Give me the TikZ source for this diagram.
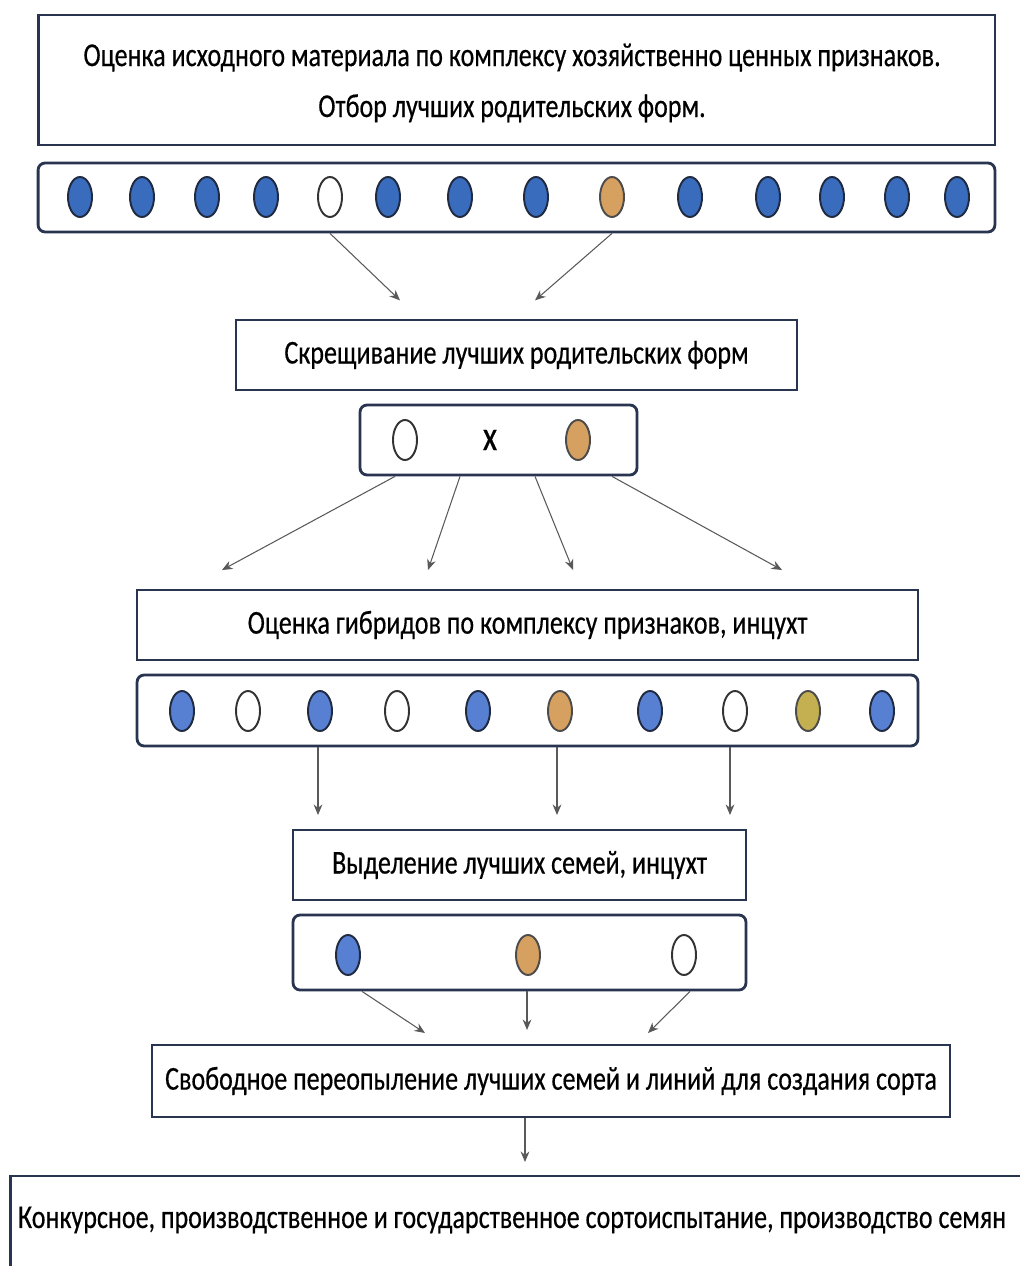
\documentclass[tikz,border=0pt]{standalone}
\usepackage{fontspec}
\setmainfont[FakeStretch=0.78,FakeBold=0.4]{Carlito}
\usepackage{xcolor}
\usetikzlibrary{arrows.meta,shapes.geometric}

\definecolor{frame}{RGB}{40,52,80}
\definecolor{seedblue}{RGB}{58,108,190}
\definecolor{seedlight}{RGB}{88,128,210}
\definecolor{seedorange}{RGB}{214,160,96}
\definecolor{seedolive}{RGB}{196,176,80}

\tikzset{
    box/.style={draw=frame, line width=1.6pt, inner sep=2pt, align=center,
        font=\fontsize{19}{29}\selectfont},
    rowbox/.style={box, rounded corners=4pt},
    seed/.style={ellipse, draw=frame!80!black, line width=1.1pt, inner sep=0pt,
        minimum width=0.48cm, minimum height=0.8cm},
    sb/.style={seed, fill=seedblue},
    sl/.style={seed, fill=seedlight},
    sw/.style={seed, draw=black!80, fill=white},
    so/.style={seed, draw=black!70, fill=seedorange},
    sy/.style={seed, draw=black!70, fill=seedolive},
    arr/.style={-{Stealth[length=6pt,width=5pt]}, draw=black!65, line width=0.6pt}
}

\begin{document}
\begin{tikzpicture}[x=0.02cm, y=-0.02cm]
    \useasboundingbox (0,0) rectangle (1019,1266);

    % Evaluation of source material
    \node[box, minimum width=19.14cm, minimum height=2.6cm] (eval) at (516.5,80) {};
    \node[align=center, font=\fontsize{19}{29}\selectfont] (evaltxt) at (512,83)
        {Оценка исходного материала по комплексу хозяйственно ценных признаков.\\
         Отбор лучших родительских форм.};
    \node[rowbox, minimum width=19.14cm, minimum height=1.38cm] (row1) at (516.5,197.5) {};
    \foreach \x/\t [count=\i] in {80/sb,142/sb,207/sb,266/sb,330/sw,388/sb,460/sb,
        536/sb,612/so,690/sb,768/sb,832/sb,897/sb,957/sb}
        \node[\t] (p\i) at (\x,197) {};

    % Arrows to crossing
    \draw[arr] (row1.south -| p5) -- ++(70,67);
    \draw[arr] (row1.south -| p9) -- ++(-77,67);

    % Crossing
    \node[box, minimum width=11.22cm, minimum height=1.4cm] (cross) at (516.5,355)
        {Скрещивание лучших родительских форм};
    \node[rowbox, minimum width=5.54cm, minimum height=1.4cm] (row2) at (498.5,440) {};
    \node[sw] (m1) at (405,440) {};
    \node[font=\fontsize{24}{28}\selectfont] (times) at (490,440) {x};
    \node[so] (m2) at (578,440) {};

    % Arrows to hybrids
    \foreach \a/\b in {395/222, 460/428, 535/573, 612/782}
        \draw[arr] (row2.south -| \a,0) -- (\b,570);

    % Hybrid evaluation
    \node[box, minimum width=15.62cm, minimum height=1.4cm] (hybr) at (527.5,625)
        {Оценка гибридов по комплексу признаков, инцухт};
    \node[rowbox, minimum width=15.62cm, minimum height=1.42cm] (row3) at (527.5,710.5) {};
    \foreach \x/\t [count=\i] in {182/sl,248/sw,320/sl,397/sw,478/sl,560/so,
        650/sl,735/sw,808/sy,882/sl}
        \node[\t] (h\i) at (\x,711) {};

    % Arrows to families
    \foreach \a in {318, 557, 730}
        \draw[arr] (row3.south -| \a,0) -- (\a,815);

    % Best families
    \node[box, minimum width=9.06cm, minimum height=1.4cm] (fam) at (519.5,865)
        {Выделение лучших семей, инцухт};
    \node[rowbox, minimum width=9.06cm, minimum height=1.5cm] (row4) at (519.5,952.5) {};
    \node[sl] (f1) at (348,955) {};
    \node[so] (f2) at (528,955) {};
    \node[sw] (f3) at (684,955) {};

    % Arrows to polycross
    \draw[arr] (row4.south -| 362,0) -- (425,1033);
    \draw[arr] (row4.south -| 527,0) -- (527,1030);
    \draw[arr] (row4.south -| 690,0) -- (648,1033);

    % Polycross
    \node[box, minimum width=15.96cm, minimum height=1.44cm] (poly) at (551,1081)
        {Свободное переопыление лучших семей и линий для создания сорта};
    \draw[arr] (poly.south -| 525,0) -- (525,1162);

    % Variety trials
    \node[box, minimum width=20.4cm, minimum height=1.84cm] (trial) at (520,1222) {};
    \node[font=\fontsize{19}{29}\selectfont] (trialtxt) at (512,1220)
        {Конкурсное, производственное и государственное сортоиспытание, производство семян};
\end{tikzpicture}
\end{document}
